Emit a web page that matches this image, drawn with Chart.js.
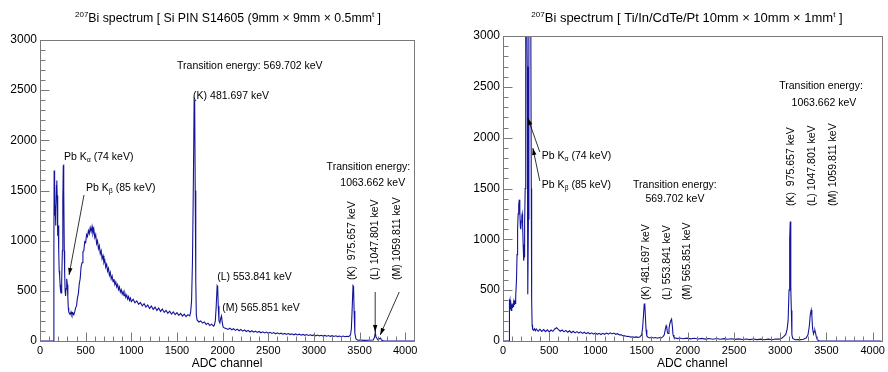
<!DOCTYPE html>
<html><head><meta charset="utf-8">
<script src="https://cdn.jsdelivr.net/npm/chart.js@4.4.0/dist/chart.umd.min.js"></script>
<style>
html,body{margin:0;padding:0;background:#fff;}
#wrap{position:relative;width:888px;height:372px;overflow:hidden;}
canvas{position:absolute;top:0;}
#cl{left:0;} #cr{left:444px;}
</style></head><body>
<div id="wrap"><canvas id="cl" width="444" height="372"></canvas><canvas id="cr" width="444" height="372"></canvas></div>
<script>
// ---------- data: Si PIN S14605 ----------
const siChannels = [0,150,152,155,158,162,166,170,175,180,184,188,192,196,200,205,210,215,220,225,230,235,240,245,250,255,258,262,266,270,275,280,285,290,295,300,305,310,315,320,330,340,350,360,370,
380,390,400,410,420,430,440,450,460,470,480,490,500,510,520,530,540,550,560,570,580,590,600,610,620,630,640,650,660,670,680,690,700,710,720,730,740,750,760,770,780,790,800,810,820,830,840,850,860,870,880,890,900,910,920,930,940,950,960,970,980,990,1000,
1020,1040,1060,1080,1100,1120,1140,1160,1180,1200,1220,1240,1260,1280,1300,1320,1340,1360,1380,1400,1420,1440,1460,1480,1500,1520,1540,1560,1580,1600,1620,1640,1650,1660,1670,1680,1688,1694,1700,1706,1712,1720,1740,1760,1780,1800,1820,1840,1860,1880,1900,1910,1920,1930,1940,1946,1952,1960,1970,1980,1988,1995,2005,2020,2040,2060,
2080,2100,2120,2140,2160,2180,2200,2220,2240,2260,2280,2300,2320,2340,2360,2380,2400,2420,2440,2460,2480,2500,2520,2540,2560,2580,2600,2620,2640,2660,2680,2700,2720,2740,2760,2780,2800,2820,2840,2860,2880,2900,2920,2940,2960,2980,3000,3020,3040,3060,3080,3100,3120,3140,3160,3180,3200,3220,3240,3260,3280,3300,3320,3340,3360,3380,3400,3410,3420,3428,3434,3440,3448,3460,3480,3500,3550,3600,3650,3664,3672,3680,3700,3720,3728,3740,3760,3800,4096];
const siCounts = [0,0,900,1700,1400,1250,1350,1150,1300,1550,1600,1450,1200,1050,1150,900,700,650,560,500,480,520,600,900,1400,1750,1760,1500,900,680,500,450,520,600,620,560,430,330,290,280,265,290,258,280,262,
290,330,350,430,470,570,620,740,780,890,900,990,980,1060,1040,1100,1070,1130,1090,1140,1070,1110,1030,1060,970,1000,920,950,870,900,820,850,780,805,735,765,695,725,655,685,620,648,590,618,562,588,538,562,512,538,488,512,468,492,452,474,434,458,418,443,404,428,393,
415,380,400,365,385,350,372,338,360,325,348,315,338,305,328,295,318,285,305,275,298,268,290,262,282,255,275,248,268,242,262,250,290,400,800,1600,2400,2380,1500,600,260,210,190,200,178,190,165,178,155,168,148,160,200,350,550,540,350,200,180,230,250,190,140,130,125,115,
128,112,122,106,118,102,114,98,110,95,106,90,102,88,98,85,95,82,92,80,89,77,86,75,84,72,81,70,78,68,76,66,74,64,72,62,70,60,68,58,66,57,64,55,62,54,61,52,59,51,57,49,56,48,54,46,53,45,52,44,50,43,49,42,47,44,60,120,350,550,540,300,80,20,8,10,6,8,10,40,90,40,12,25,30,10,3,0,0];

// ---------- data: Ti/In/CdTe/Pt ----------
const cdteChannels = [0,66,68,72,76,80,85,90,95,100,105,110,115,120,125,130,135,140,146,152,158,164,170,176,182,188,192,198,204,208,212,218,224,228,232,236,240,246,256,262,266,270,275,280,300,306,310,315,320,330,340,350,360,
380,400,420,440,460,480,500,520,540,560,580,590,600,620,640,660,680,700,720,740,760,780,800,820,840,860,880,900,920,940,960,980,1000,1020,1040,1060,1080,1100,1120,1140,1160,1180,1200,1220,1240,1260,1280,1300,1320,1340,1360,1380,1400,1420,1440,1460,1480,
1500,1510,1520,1528,1534,1540,1548,1556,1570,1590,1610,1630,1650,1670,1690,1710,1730,1745,1755,1765,1772,1780,1788,1796,1805,1815,1824,1832,1840,1850,1870,1890,
1910,1950,1990,2030,2070,2110,2150,2190,2230,2270,2310,2350,2390,2430,2470,2510,2550,2590,2630,2670,2710,2750,2790,2830,2870,2910,2950,2990,3020,3040,3060,3075,3085,3095,3102,3108,3112,3116,3120,3126,3135,3160,3190,3220,3250,3280,3300,3315,3325,3335,3342,3350,3360,3368,3375,3382,3390,3400,3420,3450,4096];
const cdteCounts = [0,0,410,360,400,310,340,300,345,330,370,340,380,360,400,370,420,440,600,850,1100,1250,1340,1390,1280,1120,1100,1180,1230,1250,1150,950,790,830,1000,1150,1500,3400,3400,2700,1500,460,1200,3400,3400,1500,400,160,115,105,120,100,118,
96,114,94,112,92,110,90,108,95,118,130,122,112,96,108,90,104,86,100,82,96,80,92,78,90,75,86,72,84,70,80,68,78,66,76,64,75,66,78,68,80,70,78,66,72,60,62,50,52,44,46,38,42,36,40,36,40,
60,120,250,360,370,250,110,50,36,30,36,30,34,28,34,30,40,60,110,150,130,80,75,120,170,200,215,150,60,35,28,24,
30,22,28,21,27,20,26,19,25,18,24,17,23,17,22,16,21,15,20,14,19,14,18,13,18,13,20,18,30,45,65,120,200,500,1000,1175,900,520,300,60,25,12,15,14,18,30,60,150,260,305,250,120,70,95,105,80,40,15,3,0,0];

// ---------- axis ticks ----------
const xTickValues = [0,500,1000,1500,2000,2500,3000,3500,4000];
const yTickValues = [0,500,1000,1500,2000,2500,3000];

// ---------- annotations (data coordinates) ----------
const siNotes = [
  {x:1501, y:2741, text:'Transition energy: 569.702 keV', align:'left'},
  {x:1677, y:2442, text:'(K) 481.697 keV', align:'left'},
  {x:263, y:1834, text:'Pb K', sub:'α', rest:' (74 keV)', align:'left'},
  {x:504, y:1525, text:'Pb K', sub:'β', rest:' (85 keV)', align:'left'},
  {x:1940, y:638, text:'(L) 553.841 keV', align:'left'},
  {x:1995, y:329, text:'(M) 565.851 keV', align:'left'},
  {x:4055, y:1734, text:'Transition energy:', align:'right'},
  {x:3644, y:1575, text:'1063.662 keV', align:'center'},
  {x:3419, y:608, text:'(K)  975.657 keV', rot:true},
  {x:3671, y:608, text:'(L) 1047.801 keV', rot:true},
  {x:3912, y:608, text:'(M) 1059.811 keV', rot:true}
];
const siArrows = [
  {x1:482, y1:1455, x2:318, y2:658},
  {x1:3671, y1:488, x2:3671, y2:90},
  {x1:3934, y1:488, x2:3726, y2:60}
];
const cdteNotes = [
  {x:419, y:1820, text:'Pb K', sub:'α', rest:' (74 keV)', align:'left'},
  {x:419, y:1534, text:'Pb K', sub:'β', rest:' (85 keV)', align:'left'},
  {x:1860, y:1534, text:'Transition energy:', align:'center'},
  {x:1860, y:1397, text:'569.702 keV', align:'center'},
  {x:1548, y:403, text:'(K) 481.697 keV', rot:true},
  {x:1774, y:403, text:'(L) 553.841 keV', rot:true},
  {x:1989, y:403, text:'(M) 565.851 keV', rot:true},
  {x:3441, y:2508, text:'Transition energy:', align:'center'},
  {x:3473, y:2341, text:'1063.662 keV', align:'center'},
  {x:3118, y:1328, text:'(K)  975.657 keV', rot:true},
  {x:3344, y:1328, text:'(L) 1047.801 keV', rot:true},
  {x:3570, y:1328, text:'(M) 1059.811 keV', rot:true}
];
const cdteArrows = [
  {x1:398, y1:1859, x2:269, y2:2193},
  {x1:398, y1:1574, x2:323, y2:1898}
];

const FONT = '"Liberation Sans", Arial, Helvetica, sans-serif';

const rootPlugin = {
  id: 'rootStyle',
  afterDatasetsDraw(chart) {
    const o = chart.options.plugins.rootStyle;
    const {ctx, chartArea: a, scales: {x, y}} = chart;
    ctx.save();
    // frame
    ctx.strokeStyle = '#7a7a7a';
    ctx.lineWidth = 1;
    const L = Math.round(a.left) + 0.5, T = Math.round(a.top) + 0.5;
    const R = Math.round(a.right) + 0.5, B = Math.round(a.bottom) + 0.5;
    ctx.strokeRect(L, T, R - L, B - T);
    // ticks inside (ROOT style)
    ctx.beginPath();
    for (let v = 0; v <= 4096; v += 100) {
      const px = Math.round(x.getPixelForValue(v)) + 0.5;
      const len = v % 500 === 0 ? 9 : 5;
      ctx.moveTo(px, B); ctx.lineTo(px, B - len);
    }
    for (let v = 0; v <= 3000; v += 100) {
      const py = Math.round(y.getPixelForValue(v)) + 0.5;
      const len = v % 500 === 0 ? 9 : 5;
      ctx.moveTo(L, py); ctx.lineTo(L + len, py);
    }
    ctx.stroke();

    // annotations
    ctx.fillStyle = '#000';
    ctx.font = '10.5px ' + FONT;
    ctx.textBaseline = 'middle';
    for (const n of o.notes) {
      const px = x.getPixelForValue(n.x), py = y.getPixelForValue(n.y);
      if (n.rot) {
        ctx.save(); ctx.translate(px, py); ctx.rotate(-Math.PI / 2);
        ctx.textAlign = 'left'; ctx.fillText(n.text, 0, 0); ctx.restore();
      } else if (n.sub) {
        ctx.textAlign = 'left';
        ctx.font = '10.5px ' + FONT;
        ctx.fillText(n.text, px, py);
        let w = ctx.measureText(n.text).width;
        ctx.font = '7px ' + FONT;
        ctx.fillText(n.sub, px + w, py + 3);
        w += ctx.measureText(n.sub).width;
        ctx.font = '10.5px ' + FONT;
        ctx.fillText(n.rest, px + w, py);
      } else {
        ctx.textAlign = n.align || 'left';
        ctx.fillText(n.text, px, py);
      }
    }
    // arrows
    ctx.strokeStyle = '#000'; ctx.lineWidth = 0.8;
    for (const r of o.arrows) {
      const x1 = x.getPixelForValue(r.x1), y1 = y.getPixelForValue(r.y1);
      const x2 = x.getPixelForValue(r.x2), y2 = y.getPixelForValue(r.y2);
      ctx.beginPath(); ctx.moveTo(x1, y1); ctx.lineTo(x2, y2); ctx.stroke();
      const ang = Math.atan2(y2 - y1, x2 - x1), hl = 7, hw = 2.2;
      ctx.beginPath();
      ctx.moveTo(x2, y2);
      ctx.lineTo(x2 - hl * Math.cos(ang) + hw * Math.sin(ang), y2 - hl * Math.sin(ang) - hw * Math.cos(ang));
      ctx.lineTo(x2 - hl * Math.cos(ang) - hw * Math.sin(ang), y2 - hl * Math.sin(ang) + hw * Math.cos(ang));
      ctx.closePath(); ctx.fill();
    }

    // title with superscripts
    const parts = o.title, fs = o.titleSize, ss = Math.round(fs * 0.62);
    let total = 0;
    for (const p of parts) {
      ctx.font = (p.sup ? ss : fs) + 'px ' + FONT;
      total += ctx.measureText(p.t).width;
    }
    let cx = o.titleX - total / 2;
    ctx.textAlign = 'left'; ctx.textBaseline = 'alphabetic';
    for (const p of parts) {
      ctx.font = (p.sup ? ss : fs) + 'px ' + FONT;
      ctx.fillText(p.t, cx, p.sup ? 17 : 22);
      cx += ctx.measureText(p.t).width;
    }
    // x-axis title
    ctx.font = '12px ' + FONT;
    ctx.textAlign = 'center'; ctx.textBaseline = 'middle';
    ctx.fillText('ADC channel', (a.left + a.right) / 2, 364);
    ctx.restore();
  }
};

function makeChart(id, channels, counts, cfg) {
  return new Chart(document.getElementById(id), {
    type: 'line',
    data: { datasets: [{
      data: channels.map((c, i) => ({x: c, y: counts[i]})),
      borderColor: '#14149a', borderWidth: 1.1, pointRadius: 0, tension: 0, fill: false
    }]},
    options: {
      responsive: false, animation: false, devicePixelRatio: 1,
      layout: { padding: cfg.padding },
      plugins: {
        legend: {display: false}, tooltip: {enabled: false}, title: {display: false},
        rootStyle: { notes: cfg.notes, arrows: cfg.arrows, title: cfg.title, titleX: cfg.titleX, titleSize: cfg.titleSize }
      },
      scales: {
        x: {
          type: 'linear', min: 0, max: 4096,
          afterFit(s) { s.height = 31; },
          afterBuildTicks(s) { s.ticks = xTickValues.map(v => ({value: v})); },
          grid: {display: false, drawTicks: false}, border: {display: false},
          ticks: {font: {family: FONT, size: 11}, color: '#000', padding: 3, maxRotation: 0, autoSkip: false, callback: v => String(v)}
        },
        y: {
          type: 'linear', min: 0, max: 3000,
          afterFit(s) { s.width = cfg.yWidth; },
          afterBuildTicks(s) { s.ticks = yTickValues.map(v => ({value: v})); },
          grid: {display: false, drawTicks: false}, border: {display: false},
          ticks: {font: {family: FONT, size: 12}, color: '#000', padding: 3, callback: v => String(v)}
        }
      }
    },
    plugins: [rootPlugin]
  });
}

makeChart('cl', siChannels, siCounts, {
  padding: {left: 0, right: 30, top: 40, bottom: 0}, yWidth: 40,
  notes: siNotes, arrows: siArrows, titleX: 228, titleSize: 12.3,
  title: [{t:'207', sup:true}, {t:'Bi spectrum [ Si PIN S14605 (9mm × 9mm × 0.5mm'}, {t:'t', sup:true}, {t:' ]'}]
});
makeChart('cr', cdteChannels, cdteCounts, {
  padding: {left: 0, right: 4, top: 36, bottom: 0}, yWidth: 59,
  notes: cdteNotes, arrows: cdteArrows, titleX: 243, titleSize: 13,
  title: [{t:'207', sup:true}, {t:'Bi spectrum [ Ti/In/CdTe/Pt 10mm × 10mm × 1mm'}, {t:'t', sup:true}, {t:' ]'}]
});
</script>
</body></html>
